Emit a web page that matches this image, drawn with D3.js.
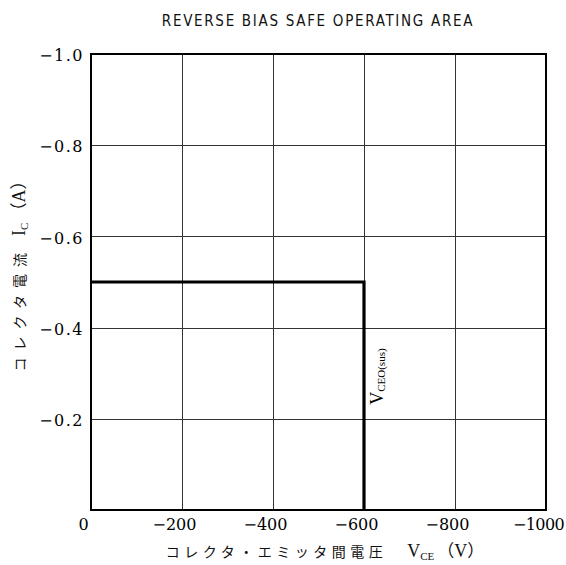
<!DOCTYPE html>
<html>
<head>
<meta charset="utf-8">
<script src="https://cdn.jsdelivr.net/npm/d3@7"></script>
<style>
  html, body { margin: 0; padding: 0; background: #fff; }
  svg { display: block; }
</style>
</head>
<body>
<svg id="chart" width="566" height="565"></svg>
<script>
// Axis ticks and labels
const xTicks = [0, -200, -400, -600, -800, -1000];
const xTickLabels = ["0", "\u2212200", "\u2212400", "\u2212600", "\u2212800", "\u22121000"];
const yTicks = [-0.2, -0.4, -0.6, -0.8, -1.0];
const yTickLabels = ["\u22120.2", "\u22120.4", "\u22120.6", "\u22120.8", "\u22121.0"];

// Safe operating area boundary: V_CE (V), I_C (A)
const soaVce = [0, -600, -600];
const soaIc = [-0.5, -0.5, 0];

const svg = d3.select("#chart");
const margin = { left: 91, right: 20, top: 54, bottom: 55 };
const W = 566, H = 565;

const x = d3.scaleLinear().domain([0, -1000]).range([margin.left, W - margin.right]);
const y = d3.scaleLinear().domain([0, -1.0]).range([H - margin.bottom, margin.top]);

const serif = "'Liberation Serif', 'DejaVu Serif', serif";
const tickFont = "'DejaVu Serif', 'Liberation Serif', serif";
const cjk = "'Noto Sans CJK JP', sans-serif";

// Title
svg.append("text")
  .attr("x", 318).attr("y", 26)
  .attr("text-anchor", "middle")
  .style("font-family", "'DejaVu Sans Condensed', 'DejaVu Sans', sans-serif")
  .style("font-size", "15px")
  .style("letter-spacing", "1.7px")
  .attr("fill", "#111")
  .text("REVERSE BIAS SAFE OPERATING AREA");

// Grid
const grid = svg.append("g").attr("stroke", "#333").attr("stroke-width", 1);
grid.selectAll("line.gx").data(xTicks.slice(1, -1)).join("line")
  .attr("x1", d => Math.round(x(d)) + 0.5).attr("x2", d => Math.round(x(d)) + 0.5)
  .attr("y1", y(0)).attr("y2", y(-1.0));
grid.selectAll("line.gy").data(yTicks.slice(0, -1)).join("line")
  .attr("y1", d => Math.round(y(d)) + 0.5).attr("y2", d => Math.round(y(d)) + 0.5)
  .attr("x1", x(0)).attr("x2", x(-1000));

// Frame
svg.append("rect")
  .attr("x", x(0)).attr("y", y(-1.0))
  .attr("width", x(-1000) - x(0)).attr("height", y(0) - y(-1.0))
  .attr("fill", "none").attr("stroke", "#000").attr("stroke-width", 2);

// SOA boundary
const line = d3.line().x(d => x(d[0])).y(d => y(d[1]));
svg.append("path")
  .datum(soaVce.map((v, i) => [v, soaIc[i]]))
  .attr("d", line)
  .attr("fill", "none").attr("stroke", "#000").attr("stroke-width", 3.2);

// Axes (labels only)
const xAxis = d3.axisBottom(x).tickValues(xTicks).tickSize(0).tickPadding(9)
  .tickFormat((d, i) => xTickLabels[i]);
const gx = svg.append("g").attr("transform", `translate(0,${y(0)})`).call(xAxis);
gx.select(".domain").remove();
gx.style("font-family", tickFont).style("font-size", "16px");
gx.selectAll("text")
  .style("font-family", tickFont).style("font-size", "16px")
  .attr("fill", "#000")
  .attr("dx", -8);
gx.selectAll(".tick").filter(d => d === -1000).select("text")
  .style("letter-spacing", "-0.6px");

const yAxis = d3.axisLeft(y).tickValues(yTicks).tickSize(0).tickPadding(7)
  .tickFormat((d, i) => yTickLabels[i]);
const gy = svg.append("g").attr("transform", `translate(${x(0)},0)`).call(yAxis);
gy.select(".domain").remove();
gy.style("font-family", tickFont).style("font-size", "16px");
gy.selectAll("text")
  .style("font-family", tickFont).style("font-size", "16px").style("letter-spacing", "1.5px")
  .attr("fill", "#000")
  .attr("dy", "0.42em");

// X axis title
const xt = svg.append("text")
  .attr("x", 325).attr("y", 557)
  .attr("text-anchor", "middle")
  .attr("fill", "#111");
xt.append("tspan").style("font-family", cjk).style("font-size", "14px").style("letter-spacing", "4.5px")
  .text("コレクタ・エミッタ間電圧");
xt.append("tspan").style("font-family", serif).style("font-size", "18px").attr("dx", 20).text("V");
xt.append("tspan").style("font-family", serif).style("font-size", "11px").attr("dy", 3).text("CE");
xt.append("tspan").style("font-family", cjk).style("font-size", "17px").attr("dy", -3).attr("dx", 3).text("（");
xt.append("tspan").style("font-family", serif).style("font-size", "18px").text("V");
xt.append("tspan").style("font-family", cjk).style("font-size", "17px").text("）");

// Y axis title
const yt = svg.append("text")
  .attr("transform", `translate(25,272) rotate(-90)`)
  .attr("text-anchor", "middle")
  .attr("fill", "#111");
yt.append("tspan").style("font-family", cjk).style("font-size", "14px").style("letter-spacing", "7px")
  .text("コレクタ電流");
yt.append("tspan").style("font-family", serif).style("font-size", "18px").attr("dx", 10).text("I");
yt.append("tspan").style("font-family", serif).style("font-size", "11px").attr("dy", 3).text("C");
yt.append("tspan").style("font-family", cjk).style("font-size", "17px").attr("dy", -3).attr("dx", 3).text("（");
yt.append("tspan").style("font-family", serif).style("font-size", "18px").text("A");
yt.append("tspan").style("font-family", cjk).style("font-size", "17px").text("）");

// V_CEO(sus) annotation along the vertical boundary
const ann = svg.append("text")
  .attr("transform", `translate(${x(-600) + 19},${y(-0.2) - 14}) rotate(-90)`)
  .attr("text-anchor", "start")
  .attr("fill", "#000");
ann.append("tspan").style("font-family", serif).style("font-size", "18px").text("V");
ann.append("tspan").style("font-family", serif).style("font-size", "11px").attr("dy", 2).text("CEO(sus)");
</script>
</body>
</html>
